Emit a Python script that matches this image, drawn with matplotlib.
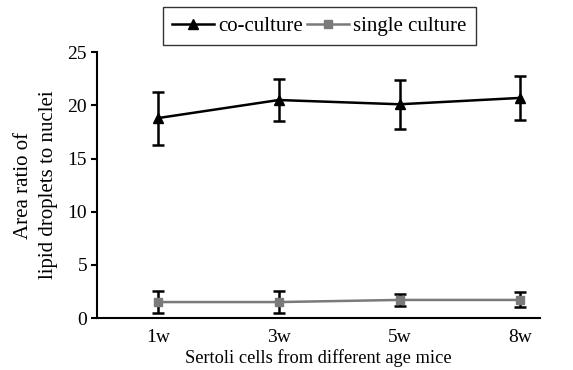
import matplotlib
matplotlib.use("Agg")
import matplotlib.pyplot as plt

categories = ["1w", "3w", "5w", "8w"]
co_culture = [18.8, 20.5, 20.1, 20.7]
co_err = [2.5, 2.0, 2.3, 2.1]
single_culture = [1.5, 1.5, 1.7, 1.7]
single_err = [1.0, 1.05, 0.6, 0.7]

plt.rcParams['font.family'] = ['Liberation Serif', 'DejaVu Serif']

fig = plt.figure(figsize=(5.73, 3.70), dpi=100)
ax = fig.add_axes([0.169, 0.1405, 0.773, 0.7185])

x = list(range(len(categories)))
ax.errorbar(x, co_culture, yerr=co_err, color='black', marker='^', markersize=7,
            linewidth=1.8, elinewidth=1.8, capsize=4, capthick=1.8, ecolor='black',
            label='co-culture', zorder=3)
ax.errorbar(x, single_culture, yerr=single_err, color='#7a7a7a', marker='s', markersize=6,
            linewidth=1.8, elinewidth=1.8, capsize=4, capthick=1.8, ecolor='black',
            label='single culture', zorder=3)

ax.set_xlim(-0.505, 3.16)
ax.set_ylim(0, 25)
ax.set_yticks([0, 5, 10, 15, 20, 25])
ax.set_xticks(x)
ax.set_xticklabels(categories)
ax.tick_params(axis='x', length=0, labelsize=14, pad=8)
ax.tick_params(axis='y', length=4, width=1.5, direction='out', labelsize=14, pad=3)
for s in ['top', 'right']:
    ax.spines[s].set_visible(False)
for s in ['left', 'bottom']:
    ax.spines[s].set_linewidth(1.5)

ax.set_xlabel('Sertoli cells from different age mice', fontsize=13.2, labelpad=2)
ax.set_ylabel('Area ratio of\nlipid droplets to nuclei', fontsize=15, linespacing=1.45)
ax.yaxis.set_label_coords(-0.088, 0.5)

handles, labels = ax.get_legend_handles_labels()
handles = [h[0] for h in handles]
leg = fig.legend(handles, labels, loc='upper center', bbox_to_anchor=(0.557, 0.981), ncol=2,
                 fontsize=15, frameon=True, fancybox=False, edgecolor='black',
                 handlelength=2.0, handletextpad=0.2, columnspacing=0.2, borderpad=0.45,
                 borderaxespad=0)
leg.get_frame().set_linewidth(1.0)

fig.savefig('out.png', dpi=100)
